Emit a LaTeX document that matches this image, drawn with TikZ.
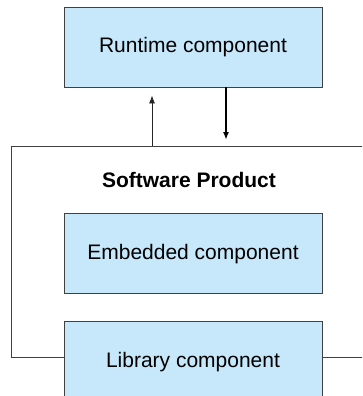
\documentclass[tikz,border=0pt]{standalone}
\usepackage{fontspec}
\setmainfont{Liberation Sans}
\usetikzlibrary{positioning, arrows.meta}
\definecolor{compblue}{RGB}{198,232,250}

\begin{document}
\begin{tikzpicture}[x=1pt, y=-1pt, node distance=126pt, line width=0.8pt, draw=black!75,
	comp/.style = {draw=black!75, fill=compblue, minimum width=258pt, minimum height=80pt, inner sep=0pt, font=\fontsize{21}{25}\selectfont},
	tip/.style = {-{Latex[length=8pt, width=6pt]}}]
	\useasboundingbox (0,0) rectangle (362,396);
	\clip (0,0) rectangle (362,396);
	\node[draw=black!75, fill=white, minimum width=370pt, minimum height=211pt, anchor=north west] (product) at (11,146) {};
	\node[font=\fontsize{21}{25}\selectfont\bfseries] (title) at (189,180) {Software Product};
	\node[comp] (runtime) at (193,47) {Runtime component};
	\node[comp] (embedded) [below=of runtime] {Embedded component};
	\node[comp] (library) [below=27pt of embedded] {Library component};
	\coordinate (up) at (152,0);
	\coordinate (down) at (226,0);
	\draw[tip, black!85, shorten >=8pt] (product.north -| up) -- (runtime.south -| up);
	\draw[tip, black, line width=1.6pt, shorten >=6pt] (runtime.south -| down) -- (product.north -| down);
\end{tikzpicture}
\end{document}
